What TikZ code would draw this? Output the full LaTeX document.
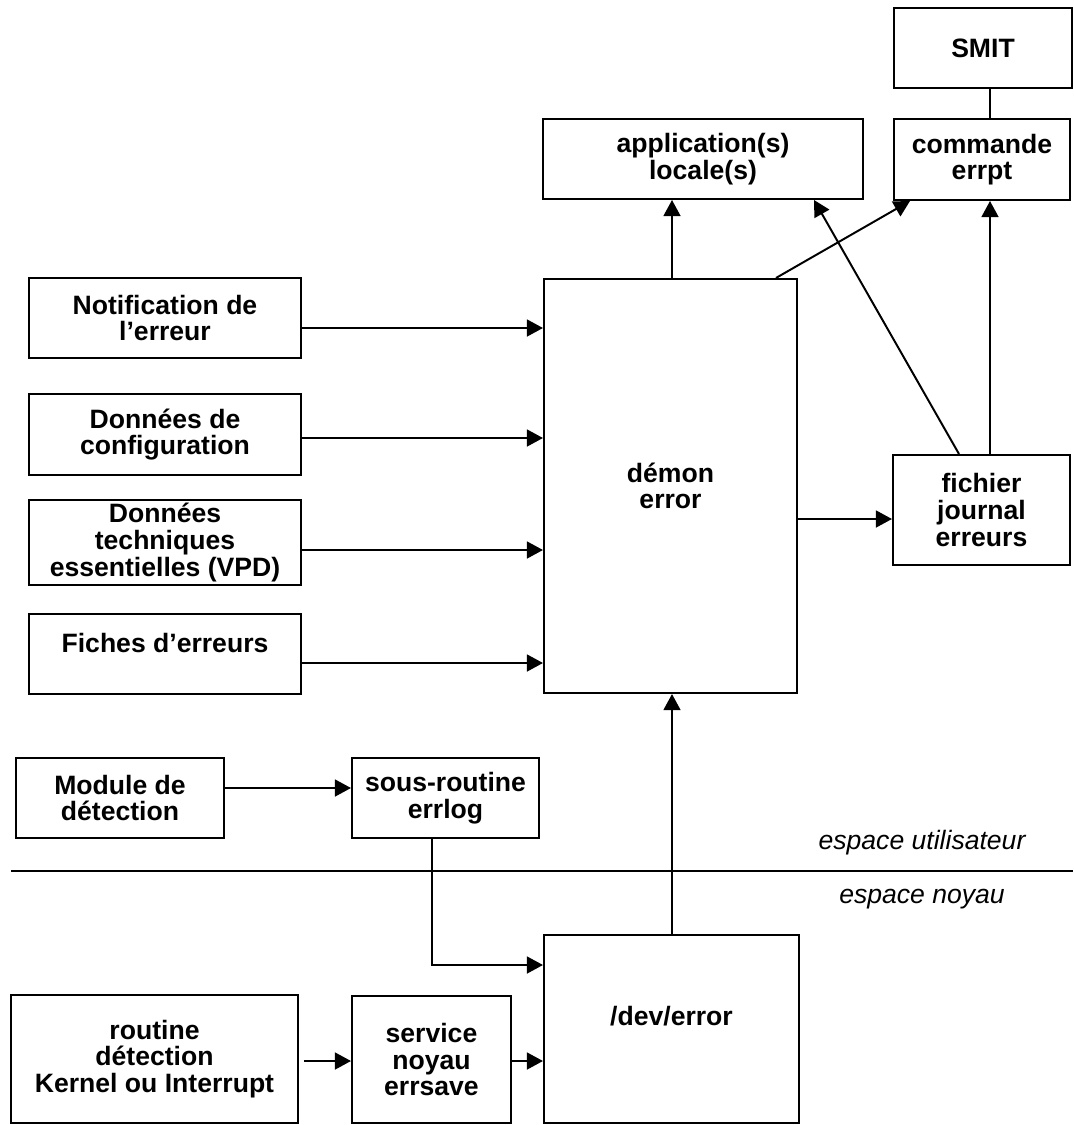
\documentclass[tikz,border=0pt]{standalone}
\usepackage{fontspec}
\setmainfont{Liberation Sans}
\usepackage{tikz}
\usetikzlibrary{arrows.meta}

\tikzset{
  boite/.style={draw, line width=1.4pt, align=center, inner sep=2pt,
    font=\fontsize{18.9pt}{19pt}\selectfont\bfseries},
  fleche/.style={line width=1.4pt, -{Triangle[length=0.4cm,width=0.42cm]}},
  lien/.style={line width=1.4pt},
  zone/.style={font=\fontsize{18.9pt}{19pt}\selectfont\itshape}
}

\begin{document}
\begin{tikzpicture}[x=0.025cm, y=-0.025cm]

        \useasboundingbox (0,0) rectangle (1073,1125);

        % haut
        \node[boite, minimum width=4.45cm, minimum height=2cm] (smit) at (983,48) {SMIT};
        \node[boite, minimum width=4.4cm, minimum height=2.025cm] (errpt) at (982,159.5) {commande\\errpt};
        \node[boite, minimum width=8cm, minimum height=2cm] (appli) at (703,159) {application(s)\\locale(s)};

        \node[boite, minimum width=6.325cm, minimum height=10.35cm] (demon) at (670.5,486) {démon\\error};
        \node[boite, minimum width=4.425cm, minimum height=2.75cm] (fichier) at (981.5,510) {fichier\\journal\\erreurs};

        % entrees du demon
        \node[boite, minimum width=6.8cm, minimum height=2cm] (notif) at (165,318) {Notification de\\l’erreur};
        \node[boite, minimum width=6.8cm, minimum height=2.025cm] (config) at (165,434.5) {Données de\\configuration};
        \node[boite, minimum width=6.8cm, minimum height=2.025cm] (vpd) at (165,542.5) {Données\\techniques\\essentielles (VPD)};
        \node[boite, minimum width=6.8cm, minimum height=2cm, text depth=0.55cm] (fiches) at (165,654) {Fiches d’erreurs};

        % bas
        \node[boite, minimum width=5.2cm, minimum height=2cm] (module) at (120,798) {Module de\\détection};
        \node[boite, minimum width=4.675cm, minimum height=2cm] (errlog) at (445.5,798) {sous-routine\\errlog};
        \node[boite, minimum width=6.375cm, minimum height=4.7cm, text depth=0.65cm] (devnode) at (671.5,1029) {/dev/error};
        \node[boite, minimum width=7.175cm, minimum height=3.2cm] (routine) at (154.5,1059) {routine\\détection\\Kernel ou Interrupt};
        \node[boite, minimum width=3.975cm, minimum height=3.175cm] (errsave) at (431.5,1059.5) {service\\noyau\\errsave};

        % separation utilisateur / noyau
        \draw[line width=1.6pt] (11,871) -- (1073,871);
        \node[zone] (utilisateur) at (922,843) {espace utilisateur};
        \node[zone] (noyau) at (922,899) {espace noyau};

        \foreach \src/\yy in {notif/328, config/438, vpd/550, fiches/663}
            \draw[fleche] (\src.east |- 0,\yy) -- (demon.west |- 0,\yy);

        \draw[fleche] (demon.north -| 672,0) -- (appli.south -| 672,0);
        \draw[fleche] (demon.north -| 776,0) -- (errpt.south -| 910,0);
        \draw[fleche] (demon.east |- 0,519) -- (fichier.west |- 0,519);
        \draw[fleche] (fichier.north -| 959,0) -- (appli.south -| 814,0);
        \draw[fleche] (fichier.north -| 990,0) -- (errpt.south -| 990,0);
        \draw[lien] (smit.south -| 990,0) -- (errpt.north -| 990,0);

        \draw[fleche] (module.east |- 0,788) -- (errlog.west |- 0,788);
        \draw[fleche] (errlog.south -| 432,0) |- (devnode.west |- 0,965);
        \draw[fleche] (devnode.north -| 672,0) -- (demon.south -| 672,0);
        \draw[fleche, shorten <=0.12cm] (routine.east |- 0,1061) -- (errsave.west |- 0,1061);
        \draw[fleche] (errsave.east |- 0,1061) -- (devnode.west |- 0,1061);

    \end{tikzpicture}
\end{document}
